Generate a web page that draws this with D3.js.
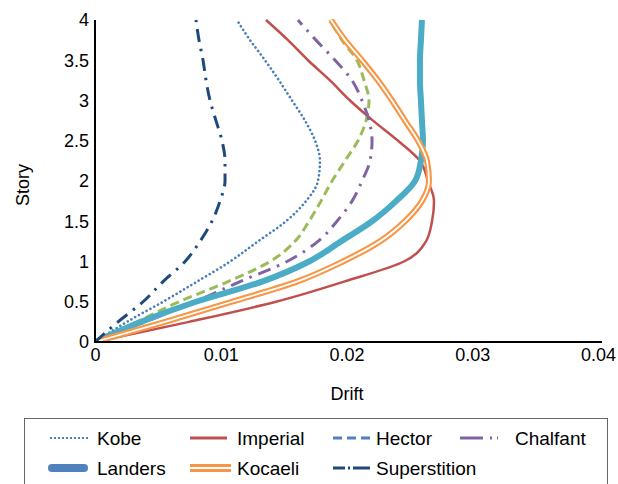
<!DOCTYPE html>
<html>
<head>
<meta charset="utf-8">
<script src="https://cdn.jsdelivr.net/npm/d3@7"></script>
<style>
body { margin: 0; background: #fff; }
text { font-family: "Liberation Sans", Arial, sans-serif; }
</style>
</head>
<body>
<div id="chart"></div>
<script>
// story levels (0 to 4 every 0.25) and drift per record
var story = [0, 0.25, 0.5, 0.75, 1, 1.25, 1.5, 1.75, 2, 2.25, 2.5, 2.75, 3, 3.25, 3.5, 3.75, 4];
var kobe = [0, 0.00254, 0.00541, 0.00811, 0.01074, 0.01296, 0.01519, 0.01678, 0.01773, 0.01789, 0.0175, 0.0167, 0.01567, 0.01463, 0.01352, 0.01233, 0.01129];
var imperial = [0, 0.00748, 0.01439, 0.0198, 0.02457, 0.02632, 0.0268, 0.02696, 0.02648, 0.02584, 0.0241, 0.02211, 0.02028, 0.01869, 0.01694, 0.01535, 0.0136];
var hector = [0, 0.00334, 0.00668, 0.01058, 0.01392, 0.0159, 0.01702, 0.01797, 0.01885, 0.01988, 0.02091, 0.02155, 0.02179, 0.02139, 0.02083, 0.01964, 0.01869];
var chalfant = [0, 0.00398, 0.00795, 0.01153, 0.01527, 0.01773, 0.01924, 0.02044, 0.02123, 0.02187, 0.02203, 0.02179, 0.02123, 0.02044, 0.01909, 0.01757, 0.01614];
var landers = [0, 0.00366, 0.00803, 0.01328, 0.01702, 0.01956, 0.02203, 0.02394, 0.02545, 0.02592, 0.02608, 0.026, 0.02592, 0.02584, 0.02584, 0.02592, 0.026];
var kocaeli = [0, 0.00557, 0.01089, 0.01606, 0.01972, 0.02266, 0.02465, 0.026, 0.02656, 0.0264, 0.02569, 0.02465, 0.02362, 0.0225, 0.02123, 0.01988, 0.01877];
var superstition = [0, 0.00183, 0.00382, 0.00541, 0.00716, 0.00835, 0.0093, 0.00994, 0.01034, 0.01034, 0.0101, 0.00962, 0.00915, 0.00883, 0.00859, 0.00827, 0.00803];

var seriesNames = ["Kobe", "Imperial", "Hector", "Chalfant", "Landers", "Kocaeli", "Superstition"];
var seriesData = [kobe, imperial, hector, chalfant, landers, kocaeli, superstition];
var xTicks = [0, 0.01, 0.02, 0.03, 0.04];
var yTicks = [0, 0.5, 1, 1.5, 2, 2.5, 3, 3.5, 4];

var width = 618, height = 484;

var svg = d3.select("#chart").append("svg")
	.attr("width", width)
	.attr("height", height);

var xScale = d3.scaleLinear()
	.domain([0, 0.04])
	.range([95, 598]);

var yScale = d3.scaleLinear()
	.domain([0, 4])
	.range([342, 20]);

// line styles as drawn in the plot (the legend uses other colours, like the source)
var styles = {
	Kobe: {color: "#4a7ebb", width: 2.6, dash: "0.1 4.2", cap: "round"},
	Imperial: {color: "#c0504d", width: 2.5, dash: null, cap: "butt"},
	Hector: {color: "#9bbb59", width: 3, dash: "9 5", cap: "butt"},
	Chalfant: {color: "#8064a2", width: 3, dash: "13 7 2.5 7", cap: "butt"},
	Landers: {color: "#4bacc6", width: 6, dash: null, cap: "butt"},
	Kocaeli: {color: "#f79646", width: 6, dash: null, cap: "butt"},
	Superstition: {color: "#1f497d", width: 3, dash: "13 7 2.5 7", cap: "butt"}
};

var line = d3.line()
	.x(function(d) { return xScale(d[1]); })
	.y(function(d) { return yScale(d[0]); })
	.curve(d3.curveMonotoneY);

svg.append("defs").append("clipPath")
	.attr("id", "plotclip")
	.append("rect")
	.attr("x", 94).attr("y", 19)
	.attr("width", 510).attr("height", 324);

var plot = svg.append("g").attr("clip-path", "url(#plotclip)");

seriesNames.forEach(function(name, i) {
	var st = styles[name];
	var pts = story.map(function(s, j) { return [s, seriesData[i][j]]; });
	plot.append("path")
		.datum(pts)
		.attr("d", line)
		.attr("fill", "none")
		.attr("stroke", st.color)
		.attr("stroke-width", st.width)
		.attr("stroke-linecap", st.cap)
		.attr("stroke-dasharray", st.dash);
	if (name == "Kocaeli") {
		// double line
		plot.append("path")
			.datum(pts)
			.attr("d", line)
			.attr("fill", "none")
			.attr("stroke", "#fff")
			.attr("stroke-width", 1.8);
	}
});

// axes
var xaxis = d3.axisBottom(xScale)
	.tickValues(xTicks)
	.tickSize(0)
	.tickPadding(6)
	.tickFormat(function(d) { return d == 0 ? "0" : d3.format(".2f")(d); });

var yaxis = d3.axisLeft(yScale)
	.tickValues(yTicks)
	.tickSize(0)
	.tickPadding(6)
	.tickFormat(function(d) { return d; });

var gx = svg.append("g")
	.attr("transform", "translate(0,342)")
	.call(xaxis);
gx.select(".domain").remove();
gx.selectAll("text").attr("font-size", 18).attr("fill", "#000").attr("font-family", "Liberation Sans, Arial, sans-serif");

var gy = svg.append("g")
	.attr("transform", "translate(95,0)")
	.call(yaxis);
gy.select(".domain").remove();
gy.selectAll("text").attr("font-size", 18).attr("fill", "#000").attr("font-family", "Liberation Sans, Arial, sans-serif");

svg.append("line")
	.attr("x1", 95).attr("x2", 95)
	.attr("y1", 20).attr("y2", 343)
	.attr("stroke", "#000").attr("stroke-width", 2);
svg.append("line")
	.attr("x1", 94).attr("x2", 602)
	.attr("y1", 342).attr("y2", 342)
	.attr("stroke", "#000").attr("stroke-width", 2);

svg.append("text")
	.attr("x", 347)
	.attr("y", 400)
	.attr("text-anchor", "middle")
	.attr("font-size", 18)
	.text("Drift");

svg.append("text")
	.attr("transform", "translate(29,185) rotate(-90)")
	.attr("text-anchor", "middle")
	.attr("font-size", 18)
	.text("Story");

// legend
svg.append("rect")
	.attr("x", 24.5).attr("y", 418.5)
	.attr("width", 583).attr("height", 80)
	.attr("fill", "none")
	.attr("stroke", "#666")
	.attr("stroke-width", 1);

var legendItems = [
	{name: "Kobe", x: 50, len: 38, tx: 97, y: 438, color: "#4a7ebb", width: 2, dash: "2 2", cap: "butt"},
	{name: "Imperial", x: 190, len: 37, tx: 237, y: 438, color: "#c0504d", width: 3, dash: null, cap: "butt"},
	{name: "Hector", x: 333, len: 37, tx: 376, y: 438, color: "#4f81bd", width: 3, dash: "9 5", cap: "butt"},
	{name: "Chalfant", x: 460, len: 38, tx: 515, y: 438, color: "#8064a2", width: 3, dash: "23 7 2 5 2 20", cap: "butt"},
	{name: "Landers", x: 52, len: 32, tx: 97, y: 468, color: "#4f81bd", width: 8, dash: null, cap: "round"},
	{name: "Kocaeli", x: 190, len: 41, tx: 237, y: 468, color: "#f79646", width: 8, dash: null, cap: "butt"},
	{name: "Superstition", x: 333, len: 37, tx: 376, y: 468, color: "#1f497d", width: 3, dash: "12 3 2 3 30", cap: "butt"}
];

var lg = svg.selectAll("g.legend")
	.data(legendItems)
	.enter()
	.append("g")
	.attr("class", "legend");

lg.append("line")
	.attr("x1", function(d) { return d.x; })
	.attr("x2", function(d) { return d.x + d.len; })
	.attr("y1", function(d) { return d.y; })
	.attr("y2", function(d) { return d.y; })
	.attr("stroke", function(d) { return d.color; })
	.attr("stroke-width", function(d) { return d.width; })
	.attr("stroke-linecap", function(d) { return d.cap; })
	.attr("stroke-dasharray", function(d) { return d.dash; });

lg.filter(function(d) { return d.name == "Kocaeli"; })
	.append("line")
	.attr("x1", function(d) { return d.x; })
	.attr("x2", function(d) { return d.x + d.len; })
	.attr("y1", function(d) { return d.y; })
	.attr("y2", function(d) { return d.y; })
	.attr("stroke", "#fff")
	.attr("stroke-width", 2);

lg.append("text")
	.attr("x", function(d) { return d.tx; })
	.attr("y", function(d) { return d.y + 7; })
	.attr("font-size", 19)
	.text(function(d) { return d.name; });
</script>
</body>
</html>
